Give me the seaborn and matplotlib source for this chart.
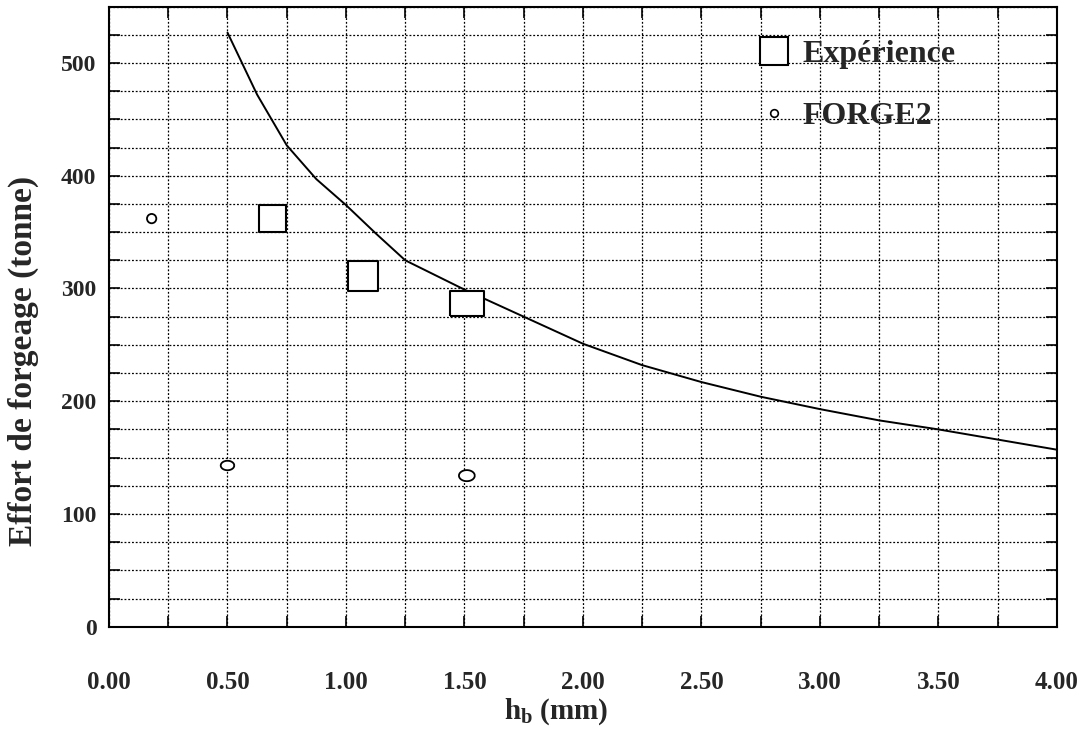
import numpy as np
import pandas as pd
import matplotlib
matplotlib.use("Agg")
import matplotlib.pyplot as plt
from matplotlib.lines import Line2D
from matplotlib.ticker import MultipleLocator, FormatStrFormatter
import seaborn as sns

# courbe (effort calculé)
curve_x = [0.5, 0.625, 0.75, 0.875, 1.0, 1.125, 1.25, 1.5, 1.75, 2.0, 2.25, 2.5, 2.75, 3.0, 3.25, 3.5, 3.75, 4.0]
curve_y = [527, 472, 427, 397, 374, 349, 325, 299, 275, 251, 232, 217, 204, 193, 183, 175, 166, 157]

# points expérimentaux
exp_x = [0.69, 1.07, 1.51]
exp_y = [362, 311, 287]

# points FORGE2
forge_x = [0.18, 0.50, 1.51]
forge_y = [362, 143, 134]

legend_labels = ["Expérience", "FORGE2"]
x_label = "$h_b$ (mm)"
y_label = "Effort de forgeage (tonne)"

sns.set_style("white")
plt.rcParams['font.family'] = ['Liberation Serif', 'DejaVu Serif']
plt.rcParams['font.weight'] = 'bold'
plt.rcParams['mathtext.fontset'] = 'custom'
plt.rcParams['mathtext.rm'] = 'Liberation Serif:bold'
plt.rcParams['mathtext.it'] = 'Liberation Serif:bold'
plt.rcParams['mathtext.bf'] = 'Liberation Serif:bold'

fig = plt.figure(figsize=(10.91, 7.40), dpi=100)
ax = fig.add_axes([0.0999, 0.1531, 0.8689, 0.8379])

# grille pointillée
ax.xaxis.set_major_locator(MultipleLocator(0.5))
ax.xaxis.set_minor_locator(MultipleLocator(0.25))
ax.yaxis.set_major_locator(MultipleLocator(100))
ax.yaxis.set_minor_locator(MultipleLocator(25))
ax.grid(True, which='both', color='black', linestyle=(0, (1.5, 1.5)), linewidth=0.9)
ax.set_axisbelow(True)

# courbe
sns.lineplot(x=curve_x, y=curve_y, color='black', linewidth=1.4, ax=ax)

# marqueurs rectangulaires / ovales
rect = [(-1, -0.74), (1, -0.74), (1, 0.74), (-1, 0.74), (-1, -0.74)]
t = np.linspace(0, 2 * np.pi, 40)
oval = list(zip(np.cos(t), 0.7 * np.sin(t)))

exp_df = pd.DataFrame({'x': exp_x, 'y': exp_y, 'forme': ['c', 'c', 'r']})
sns.scatterplot(data=exp_df, x='x', y='y', style='forme', markers={'c': 's', 'r': rect},
                s=[380, 470, 600], facecolor='white', edgecolor='black', linewidth=1.5,
                legend=False, ax=ax, zorder=3)

forge_df = pd.DataFrame({'x': forge_x, 'y': forge_y, 'forme': ['o', 'v', 'v']})
sns.scatterplot(data=forge_df, x='x', y='y', style='forme', markers={'o': 'o', 'v': oval},
                s=[45, 95, 130], facecolor='white', edgecolor='black', linewidth=1.3,
                legend=False, ax=ax, zorder=3)

ax.set_xlim(0, 4)
ax.set_ylim(0, 550)

for side in ['left', 'right', 'top', 'bottom']:
    ax.spines[side].set_visible(True)
    ax.spines[side].set_color('black')
    ax.spines[side].set_linewidth(1.5)

ax.tick_params(which='both', direction='in', length=8, width=1.2, color='black',
               top=True, right=True, bottom=True, left=True)
ax.tick_params(axis='x', which='major', pad=32, labelsize=18)
ax.tick_params(axis='y', which='major', pad=9, labelsize=17)
ax.xaxis.set_major_formatter(FormatStrFormatter('%.2f'))

ax.set_xlabel(x_label, fontsize=21, fontweight='bold')
ax.xaxis.set_label_coords(0.4715, -0.112)
ax.set_ylabel(y_label, fontsize=24, fontweight='bold')
ax.yaxis.set_label_coords(-0.074, 0.4285)

handles = [
    Line2D([], [], marker='s', linestyle='none', markersize=20, markerfacecolor='white',
           markeredgecolor='black', markeredgewidth=1.5),
    Line2D([], [], marker='o', linestyle='none', markersize=5.5, markerfacecolor='white',
           markeredgecolor='black', markeredgewidth=1.2),
]
ax.legend(handles, legend_labels, loc='upper left', bbox_to_anchor=(0.6846, 0.947),
          frameon=False, fontsize=23, handlelength=1.0, handletextpad=0.4,
          labelspacing=1.02, borderpad=0, borderaxespad=0)

fig.savefig("out.png", dpi=100)
